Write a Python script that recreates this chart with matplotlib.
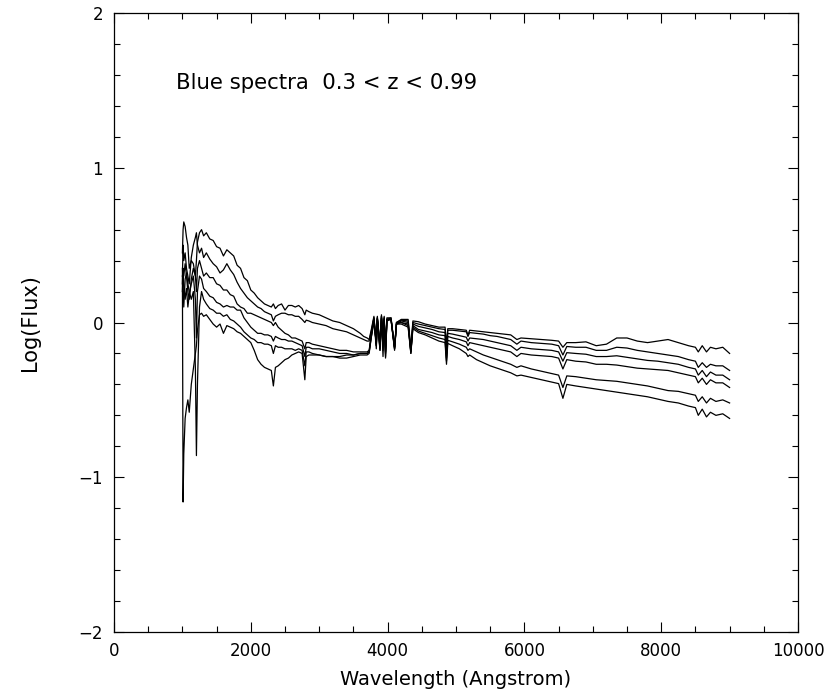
import matplotlib
matplotlib.use("Agg")
import matplotlib.pyplot as plt
from matplotlib.ticker import MultipleLocator

# Common rest-frame wavelength grid (Angstrom)
wave = [1000, 1010, 1020, 1040, 1060, 1080, 1100, 1130, 1160, 1190, 1205, 1220, 1250, 1280, 1310,
        1350, 1400, 1450, 1500, 1550, 1600, 1650, 1700, 1750, 1800, 1850, 1900, 1950, 2000,
        2050, 2100, 2150, 2200, 2250, 2300, 2330, 2360, 2400, 2450, 2500, 2550, 2600, 2650, 2700,
        2750, 2790, 2810, 2850, 2900, 3000, 3100, 3200, 3300, 3400, 3500, 3600, 3650,
        3700, 3730, 3760, 3800, 3835, 3850, 3889, 3910, 3933, 3950, 3970, 3990, 4050, 4102,
        4130, 4200, 4300, 4340, 4370, 4450,
        4550, 4650, 4750, 4840, 4861, 4880, 4950, 5050, 5150, 5175, 5200, 5300, 5400, 5500,
        5600, 5700, 5800, 5890, 5950, 6100, 6250, 6400, 6500, 6563, 6620, 6750, 6900, 7050,
        7200, 7350, 7500, 7650, 7800, 7950, 8100, 8250, 8400, 8500, 8542, 8600, 8662, 8720,
        8800, 8900, 9000]

flux_a = [0.25, 0.35, 0.30, 0.38, 0.30, 0.20, 0.15, 0.28, 0.35, 0.30, 0.20, 0.35, 0.40, 0.35, 0.30,
          0.32, 0.29, 0.29, 0.25, 0.24, 0.21, 0.21, 0.18, 0.17, 0.12, 0.10, 0.09, 0.06, 0.06,
          0.05, 0.04, 0.03, 0.02, 0.01, 0.00, -0.02, 0.00, -0.03, -0.05, -0.07, -0.08, -0.10, -0.10, -0.11,
          -0.12, -0.17, -0.13, -0.13, -0.14, -0.15, -0.16, -0.17, -0.18, -0.18, -0.19, -0.19, -0.19,
          -0.19, -0.18, -0.08, 0.03, -0.15, 0.03, -0.17, 0.04, -0.18, 0.03, -0.22, 0.02, 0.03, -0.17,
          0.00, 0.02, 0.02, -0.17, 0.01, 0.005,
          -0.01, -0.02, -0.03, -0.03, -0.14, -0.04, -0.04, -0.045, -0.05, -0.08, -0.05, -0.055, -0.06, -0.065,
          -0.07, -0.075, -0.08, -0.11, -0.10, -0.105, -0.11, -0.115, -0.12, -0.16, -0.13, -0.13, -0.125, -0.15,
          -0.14, -0.10, -0.10, -0.12, -0.13, -0.12, -0.11, -0.13, -0.15, -0.16, -0.19, -0.15, -0.19, -0.16,
          -0.17, -0.16, -0.20]

flux_b = [0.20, 0.30, 0.25, 0.15, 0.22, 0.10, 0.18, 0.25, 0.30, 0.15, -0.10, 0.20, 0.30, 0.28, 0.22,
          0.20, 0.17, 0.16, 0.13, 0.12, 0.10, 0.11, 0.10, 0.10, 0.08, 0.08, 0.03, 0.00, -0.03,
          -0.05, -0.07, -0.07, -0.08, -0.08, -0.09, -0.12, -0.09, -0.10, -0.11, -0.11, -0.12, -0.12, -0.13, -0.14,
          -0.15, -0.22, -0.16, -0.16, -0.17, -0.17, -0.18, -0.19, -0.20, -0.20, -0.21, -0.20, -0.20,
          -0.20, -0.19, -0.09, 0.02, -0.14, 0.03, -0.16, 0.03, -0.12, 0.02, -0.20, 0.02, 0.02, -0.16,
          0.00, 0.015, 0.01, -0.18, 0.00, -0.01,
          -0.02, -0.03, -0.04, -0.045, -0.17, -0.05, -0.05, -0.055, -0.06, -0.09, -0.065, -0.07, -0.075, -0.085,
          -0.09, -0.10, -0.11, -0.14, -0.12, -0.13, -0.135, -0.14, -0.15, -0.21, -0.155, -0.16, -0.16, -0.18,
          -0.18, -0.16, -0.165, -0.18, -0.19, -0.20, -0.21, -0.22, -0.24, -0.25, -0.29, -0.26, -0.29, -0.27,
          -0.28, -0.28, -0.31]

flux_c = [0.35, 0.25, 0.10, 0.28, 0.32, 0.25, 0.20, 0.15, 0.20, -0.30, -0.86, -0.40, 0.10, 0.20, 0.15,
          0.12, 0.09, 0.08, 0.06, 0.06, 0.04, 0.05, 0.02, 0.01, -0.01, -0.03, -0.06, -0.08, -0.10,
          -0.11, -0.13, -0.13, -0.14, -0.14, -0.15, -0.20, -0.15, -0.16, -0.16, -0.17, -0.17, -0.17, -0.18, -0.17,
          -0.18, -0.28, -0.19, -0.19, -0.20, -0.21, -0.22, -0.22, -0.23, -0.23, -0.22, -0.21, -0.21,
          -0.21, -0.20, -0.10, 0.02, -0.17, 0.02, -0.18, 0.02, -0.22, 0.01, -0.23, 0.01, 0.02, -0.18,
          -0.01, 0.01, 0.00, -0.20, -0.01, -0.025,
          -0.035, -0.045, -0.06, -0.065, -0.20, -0.07, -0.075, -0.085, -0.095, -0.12, -0.10, -0.105, -0.11, -0.12,
          -0.13, -0.14, -0.15, -0.18, -0.16, -0.17, -0.175, -0.18, -0.19, -0.25, -0.195, -0.20, -0.205, -0.22,
          -0.22, -0.215, -0.225, -0.235, -0.245, -0.25, -0.26, -0.27, -0.29, -0.30, -0.34, -0.31, -0.35, -0.32,
          -0.34, -0.34, -0.37]

flux_d = [0.30, -1.16, -0.85, -0.62, -0.55, -0.50, -0.58, -0.40, -0.30, -0.20, -0.15, -0.05, 0.05, 0.06, 0.04,
          0.05, 0.02, -0.01, -0.03, -0.01, -0.07, -0.02, -0.03, -0.04, -0.06, -0.07, -0.09, -0.11, -0.13,
          -0.18, -0.24, -0.27, -0.29, -0.30, -0.31, -0.41, -0.29, -0.28, -0.26, -0.24, -0.23, -0.21, -0.20, -0.19,
          -0.20, -0.37, -0.22, -0.21, -0.21, -0.21, -0.22, -0.22, -0.22, -0.21, -0.21, -0.20, -0.20,
          -0.20, -0.19, -0.10, 0.00, -0.12, 0.02, -0.14, 0.03, -0.15, 0.02, -0.19, 0.02, 0.02, -0.16,
          -0.01, 0.00, -0.01, -0.19, -0.02, -0.045,
          -0.055, -0.065, -0.08, -0.085, -0.23, -0.09, -0.10, -0.11, -0.125, -0.15, -0.13, -0.14, -0.15, -0.16,
          -0.17, -0.18, -0.19, -0.22, -0.20, -0.21, -0.215, -0.22, -0.23, -0.30, -0.24, -0.25, -0.255, -0.27,
          -0.27, -0.275, -0.285, -0.295, -0.30, -0.305, -0.31, -0.325, -0.34, -0.35, -0.39, -0.36, -0.40, -0.37,
          -0.39, -0.39, -0.42]

flux_e = [0.30, 0.50, 0.40, 0.45, 0.35, 0.30, 0.25, 0.42, 0.50, 0.55, 0.58, 0.50, 0.45, 0.48, 0.42,
          0.45, 0.41, 0.38, 0.36, 0.32, 0.34, 0.38, 0.34, 0.31, 0.26, 0.22, 0.19, 0.16, 0.14,
          0.12, 0.10, 0.09, 0.07, 0.06, 0.05, 0.01, 0.04, 0.05, 0.06, 0.06, 0.05, 0.05, 0.04, 0.04,
          0.02, 0.00, 0.015, 0.01, 0.00, -0.01, -0.02, -0.04, -0.05, -0.06, -0.08, -0.10, -0.11,
          -0.12, -0.12, -0.06, 0.03, -0.14, 0.04, -0.15, 0.05, -0.08, 0.04, -0.18, 0.03, 0.03, -0.16,
          0.00, 0.00, -0.02, -0.19, -0.03, -0.055,
          -0.07, -0.085, -0.10, -0.11, -0.25, -0.115, -0.125, -0.14, -0.16, -0.18, -0.17, -0.19, -0.21, -0.225,
          -0.24, -0.255, -0.27, -0.29, -0.28, -0.30, -0.315, -0.33, -0.34, -0.42, -0.345, -0.35, -0.36, -0.37,
          -0.375, -0.38, -0.39, -0.40, -0.41, -0.425, -0.44, -0.445, -0.46, -0.47, -0.51, -0.48, -0.52, -0.49,
          -0.51, -0.50, -0.52]

flux_f = [0.45, 0.60, 0.65, 0.62, 0.55, 0.50, 0.35, 0.40, 0.38, 0.30, 0.40, 0.52, 0.58, 0.60, 0.56,
          0.58, 0.54, 0.53, 0.49, 0.48, 0.43, 0.47, 0.45, 0.43, 0.37, 0.35, 0.29, 0.27, 0.21,
          0.19, 0.16, 0.14, 0.12, 0.11, 0.10, 0.12, 0.09, 0.11, 0.12, 0.08, 0.11, 0.11, 0.10, 0.11,
          0.09, 0.05, 0.08, 0.07, 0.06, 0.05, 0.03, 0.01, 0.00, -0.02, -0.04, -0.07, -0.09,
          -0.10, -0.11, -0.05, 0.04, -0.15, 0.03, -0.18, 0.04, -0.05, 0.03, -0.16, 0.02, 0.02, -0.17,
          -0.01, -0.01, -0.03, -0.20, -0.04, -0.065,
          -0.08, -0.10, -0.12, -0.13, -0.27, -0.135, -0.15, -0.17, -0.20, -0.22, -0.21, -0.24, -0.26, -0.28,
          -0.295, -0.31, -0.325, -0.345, -0.34, -0.355, -0.37, -0.385, -0.395, -0.49, -0.40, -0.41, -0.42, -0.43,
          -0.44, -0.45, -0.46, -0.47, -0.48, -0.495, -0.51, -0.52, -0.54, -0.55, -0.60, -0.56, -0.61, -0.58,
          -0.60, -0.59, -0.62]

spectra = [flux_a, flux_b, flux_c, flux_d, flux_e, flux_f]

title_text = "Blue spectra  0.3 < z < 0.99"
x_label = "Wavelength (Angstrom)"
y_label = "Log(Flux)"

fig = plt.figure(figsize=(8.27, 6.98), dpi=100)
ax = fig.add_axes([114 / 827, 1 - 632 / 698, (798 - 114) / 827, (632 - 13) / 698])

for fl in spectra:
    ax.plot(wave, fl, color="black", lw=0.9)

ax.set_xlim(0, 10000)
ax.set_ylim(-2, 2)
ax.xaxis.set_major_locator(MultipleLocator(2000))
ax.xaxis.set_minor_locator(MultipleLocator(500))
ax.yaxis.set_major_locator(MultipleLocator(1))
ax.yaxis.set_minor_locator(MultipleLocator(0.2))
ax.tick_params(which="both", direction="in", top=True, right=True, width=0.8, colors="black")
ax.tick_params(which="major", length=7.5)
ax.tick_params(which="minor", length=4.5)
ax.tick_params(axis="x", which="major", pad=7, labelsize=12)
ax.tick_params(axis="y", which="major", pad=8, labelsize=12)
for s in ax.spines.values():
    s.set_linewidth(0.9)

ax.text(900, 1.55, title_text, fontsize=15.3, va="center", ha="left")
ax.set_xlabel(x_label, fontsize=14, va="center")
ax.xaxis.set_label_coords(0.5, -0.0775)
ax.set_ylabel(y_label, fontsize=15, va="center")
ax.yaxis.set_label_coords(-0.123, 0.5)

fig.savefig("out.png", dpi=100)
